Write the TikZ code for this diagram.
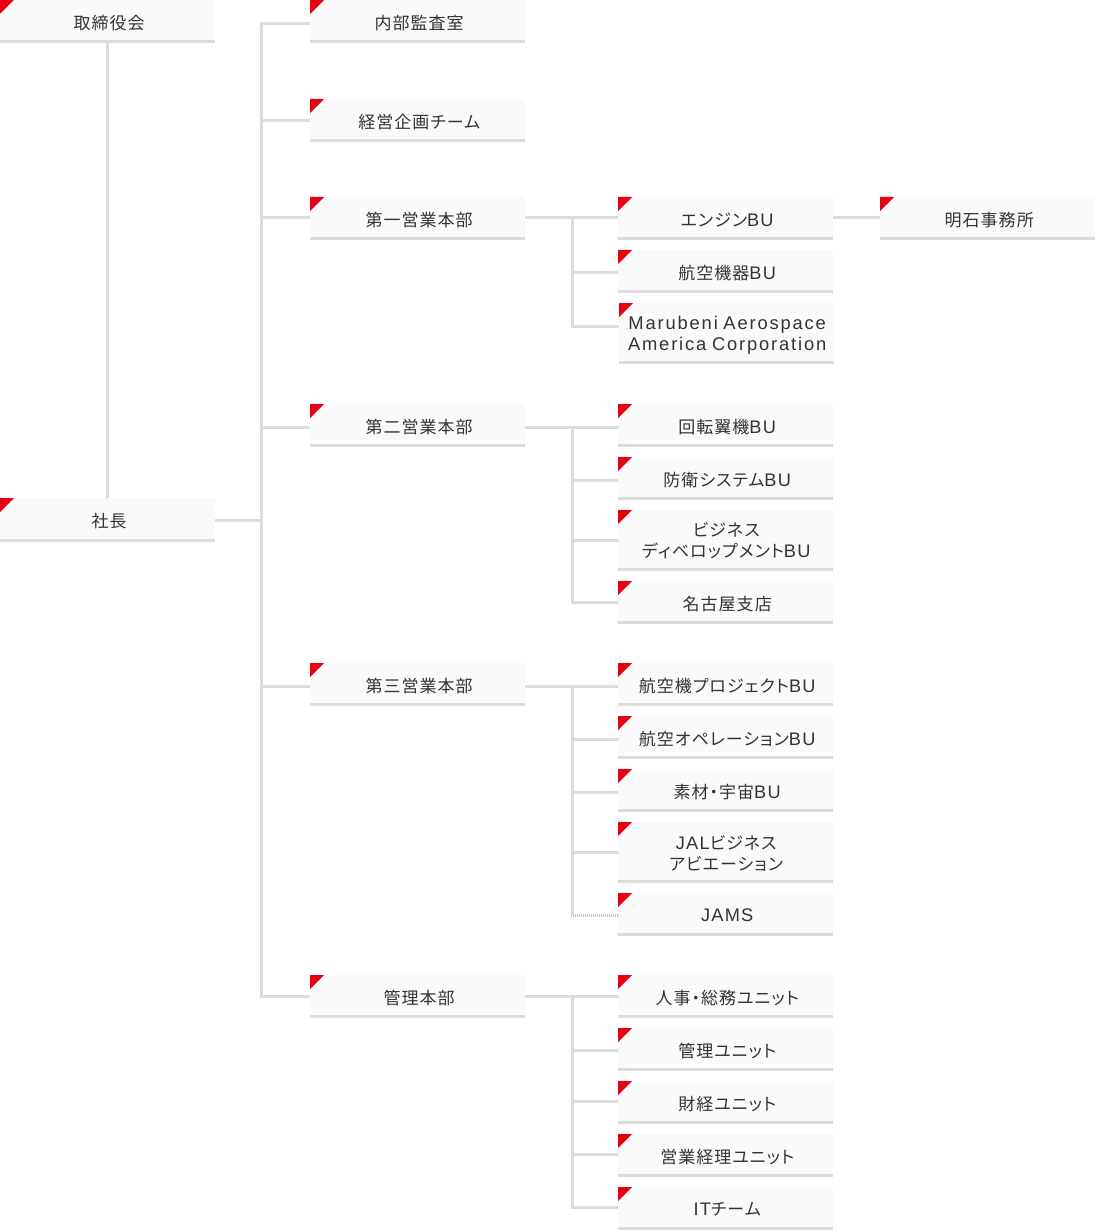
\documentclass[tikz,border=0pt]{standalone}
\usepackage{fontspec}
\setmainfont[LetterSpace=6,RawFeature={+palt}]{Noto Sans CJK JP}
\newfontfamily\latfont[LetterSpace=7,Scale=1.07]{Liberation Sans}
\newfontfamily\latwide[LetterSpace=10,Scale=1.08]{Liberation Sans}
\newcommand{\lat}[1]{{\latfont #1}}
\definecolor{boxfill}{HTML}{FAFAFA}
\definecolor{rule}{HTML}{DCDCDC}
\definecolor{mark}{HTML}{E60012}
\definecolor{ink}{HTML}{333333}
\tikzset{
  orgbox/.style={fill=boxfill,draw=none,inner sep=0pt,anchor=north west,text width=215pt,
    align=center,text=ink,font=\fontsize{17}{21}\selectfont},
  conn/.style={draw=rule,line width=3pt},
  dotconn/.style={draw=rule!88!black,line width=3pt,dash pattern=on 1pt off 1pt},
  edgeline/.style={draw=rule,line width=3pt},
  redmark/.style={fill=mark,draw=none}
}
\newcommand{\obox}[5]{%
  \pgfmathsetmacro{\hh}{#4-#3}%
  \node[orgbox,minimum height=\hh pt] (#1) at (#2,#3) {\raisebox{-1pt}[\height][\depth]{\parbox{215pt}{\centering\hspace*{3pt}#5}}};
  \draw[edgeline] ([yshift=1.5pt]#1.south west) -- ([yshift=1.5pt]#1.south east);
  \fill[redmark] (#1.north west) -- ++(14,0) -- ++(-14,14) -- cycle;
}
\newcommand{\oboxtwo}[7]{%
  \pgfmathsetmacro{\hh}{#4-#3}%
  \node[orgbox,minimum height=\hh pt] (#1) at (#2,#3) {\raisebox{#7}[\height][\depth]{\parbox{215pt}{\centering\hspace*{1pt}#5\\\hspace*{1pt}#6}}};
  \draw[edgeline] ([yshift=1.5pt]#1.south west) -- ([yshift=1.5pt]#1.south east);
  \fill[redmark] (#1.north west) -- ++(14,0) -- ++(-14,14) -- cycle;
}
\newcommand{\tap}[3]{\draw[conn] (#1 |- 0,#3) -- (#2.west |- 0,#3);}
\begin{document}
\begin{tikzpicture}[x=1pt,y=-1pt]
\useasboundingbox (0,0) rectangle (1095,1230);
\obox{board}{0}{0}{43}{取締役会}
\obox{pres}{0}{498}{542}{社長}
\obox{audit}{310}{0}{43}{内部監査室}
\obox{plan}{310}{99}{142}{経営企画チーム}
\obox{divA}{310}{197}{240}{第一営業本部}
\obox{divB}{310}{404}{447}{第二営業本部}
\obox{divC}{310}{663}{706}{第三営業本部}
\obox{divD}{310}{975}{1018}{管理本部}
\obox{aA}{618}{197}{240}{エンジン\lat{BU}}
\obox{aB}{618}{250}{293}{航空機器\lat{BU}}
\oboxtwo{aC}{619}{303}{364}{{\latwide Marubeni Aerospace}}{{\latwide America Corporation}}{-2pt}
\obox{akashi}{880}{197}{240}{明石事務所}
\obox{bA}{618}{404}{447}{回転翼機\lat{BU}}
\obox{bB}{618}{457}{500}{防衛システム\lat{BU}}
\oboxtwo{bC}{618}{510}{571}{ビジネス}{ディベロップメント\lat{BU}}{0pt}
\obox{bD}{618}{581}{624}{名古屋支店}
\obox{cA}{618}{663}{706}{航空機プロジェクト\lat{BU}}
\obox{cB}{618}{716}{759}{航空オペレーション\lat{BU}}
\obox{cC}{618}{769}{812}{素材・宇宙\lat{BU}}
\oboxtwo{cD}{618}{822}{883}{\lat{JAL}ビジネス}{アビエーション}{-1pt}
\obox{cE}{618}{893}{936}{\lat{JAMS}}
\obox{dA}{618}{975}{1018}{人事・総務ユニット}
\obox{dB}{618}{1028}{1071}{管理ユニット}
\obox{dC}{618}{1081}{1124}{財経ユニット}
\obox{dD}{618}{1134}{1177}{営業経理ユニット}
\obox{dE}{618}{1187}{1230}{\lat{IT}チーム}
\coordinate (trunkTop) at (261.5,23.5);
\coordinate (trunkEnd) at (261.5,996.5);
\draw[conn] (board.south -| 107.5,0) -- (pres.north -| 107.5,0);
\draw[conn,line cap=rect] (trunkTop) -- (trunkEnd);
\draw[conn] (pres.east |- 0,520.5) -- (trunkTop |- 0,520.5);
\tap{trunkTop}{audit}{23.5}
\tap{trunkTop}{plan}{120.5}
\tap{trunkTop}{divA}{217.5}
\tap{trunkTop}{divB}{427.5}
\tap{trunkTop}{divC}{686.5}
\tap{trunkTop}{divD}{996.5}
\coordinate (sA) at (572.5,217.5);
\draw[conn] (divA.east |- sA) -- (aA.west |- sA);
\draw[conn,line cap=rect] (sA) -- (572.5,326.5);
\tap{sA}{aB}{272.5}
\tap{sA}{aC}{326.5}
\draw[conn] (aA.east |- sA) -- (akashi.west |- sA);
\coordinate (sB) at (572.5,427.5);
\draw[conn] (divB.east |- sB) -- (bA.west |- sB);
\draw[conn,line cap=rect] (sB) -- (572.5,602.5);
\tap{sB}{bB}{480.5}
\tap{sB}{bC}{540.5}
\tap{sB}{bD}{602.5}
\coordinate (sC) at (572.5,686.5);
\draw[conn] (divC.east |- sC) -- (cA.west |- sC);
\draw[conn] (sC) -- (572.5,915);
\tap{sC}{cB}{739.5}
\tap{sC}{cC}{792.5}
\tap{sC}{cD}{852.5}
\draw[dotconn] (571,915.5) -- (cE.west |- 0,915.5);
\coordinate (sD) at (572.5,996.5);
\draw[conn] (divD.east |- sD) -- (dA.west |- sD);
\draw[conn,line cap=rect] (sD) -- (572.5,1207.5);
\tap{sD}{dB}{1050.5}
\tap{sD}{dC}{1101.5}
\tap{sD}{dD}{1154.5}
\tap{sD}{dE}{1207.5}
\end{tikzpicture}
\end{document}
